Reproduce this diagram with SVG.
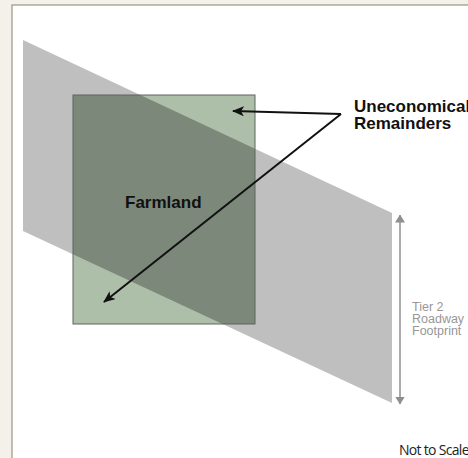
<svg xmlns="http://www.w3.org/2000/svg" width="468" height="458" viewBox="0 0 468 458">
  <style>
    .lbl { font-family: "Liberation Sans", Arial, sans-serif; font-weight: bold; fill: #111; }
    .dim { font-family: "Liberation Sans", Arial, sans-serif; font-size: 12.5px; fill: #979797; }
    .conn { stroke: #111; stroke-width: 2; fill: none; }
  </style>
  <defs>
    <marker id="ah" viewBox="0 0 12 10" refX="11" refY="5" markerWidth="12" markerHeight="10" markerUnits="userSpaceOnUse" orient="auto">
      <path d="M0,0 L12,5 L0,10 L3,5 Z" fill="#111"/>
    </marker>
    <marker id="gh" viewBox="0 0 8 10" refX="7.5" refY="5" markerWidth="8" markerHeight="10" markerUnits="userSpaceOnUse" orient="auto-start-reverse">
      <path d="M0,0 L8,5 L0,10 Z" fill="#8f8f8f"/>
    </marker>
    <clipPath id="road">
      <polygon points="23,40 392,213 392,403 23,231"/>
    </clipPath>
  </defs>
  <rect x="0" y="0" width="468" height="458" fill="#f3f1e9"/>
  <rect x="12" y="5" width="470" height="470" fill="#ffffff" stroke="#9b9482" stroke-width="1.2"/>
  <g id="roadway">
    <polygon points="23,40 392,213 392,403 23,231" fill="#bfbfbf"/>
  </g>
  <g id="farmland">
    <rect x="73" y="95" width="182" height="229" fill="#adbfa8"/>
    <rect x="73" y="95" width="182" height="229" fill="#7b887a" clip-path="url(#road)"/>
    <rect x="73" y="95" width="182" height="229" fill="none" stroke="#5f665e" stroke-width="1"/>
    <text class="lbl" x="125" y="208" font-size="17">Farmland</text>
  </g>
  <g id="remainders">
    <text class="lbl" x="354" y="112" font-size="17">Uneconomical</text>
    <text class="lbl" x="354" y="129" font-size="17">Remainders</text>
  </g>
  <g id="dimension">
    <line x1="400" y1="215" x2="400" y2="404" stroke="#8f8f8f" stroke-width="1.5" marker-start="url(#gh)" marker-end="url(#gh)"/>
    <text class="dim" x="412" y="311">Tier 2</text>
    <text class="dim" x="412" y="323">Roadway</text>
    <text class="dim" x="412" y="335">Footprint</text>
  </g>
  <g id="connectors">
    <line class="conn" x1="341" y1="114" x2="233" y2="111" marker-end="url(#ah)"/>
    <line class="conn" x1="341" y1="114" x2="104" y2="302" marker-end="url(#ah)"/>
  </g>
  <text x="399" y="455" font-family="'Open Sans', sans-serif" font-size="14" fill="#222" letter-spacing="-0.7">Not to Scale</text>
</svg>
